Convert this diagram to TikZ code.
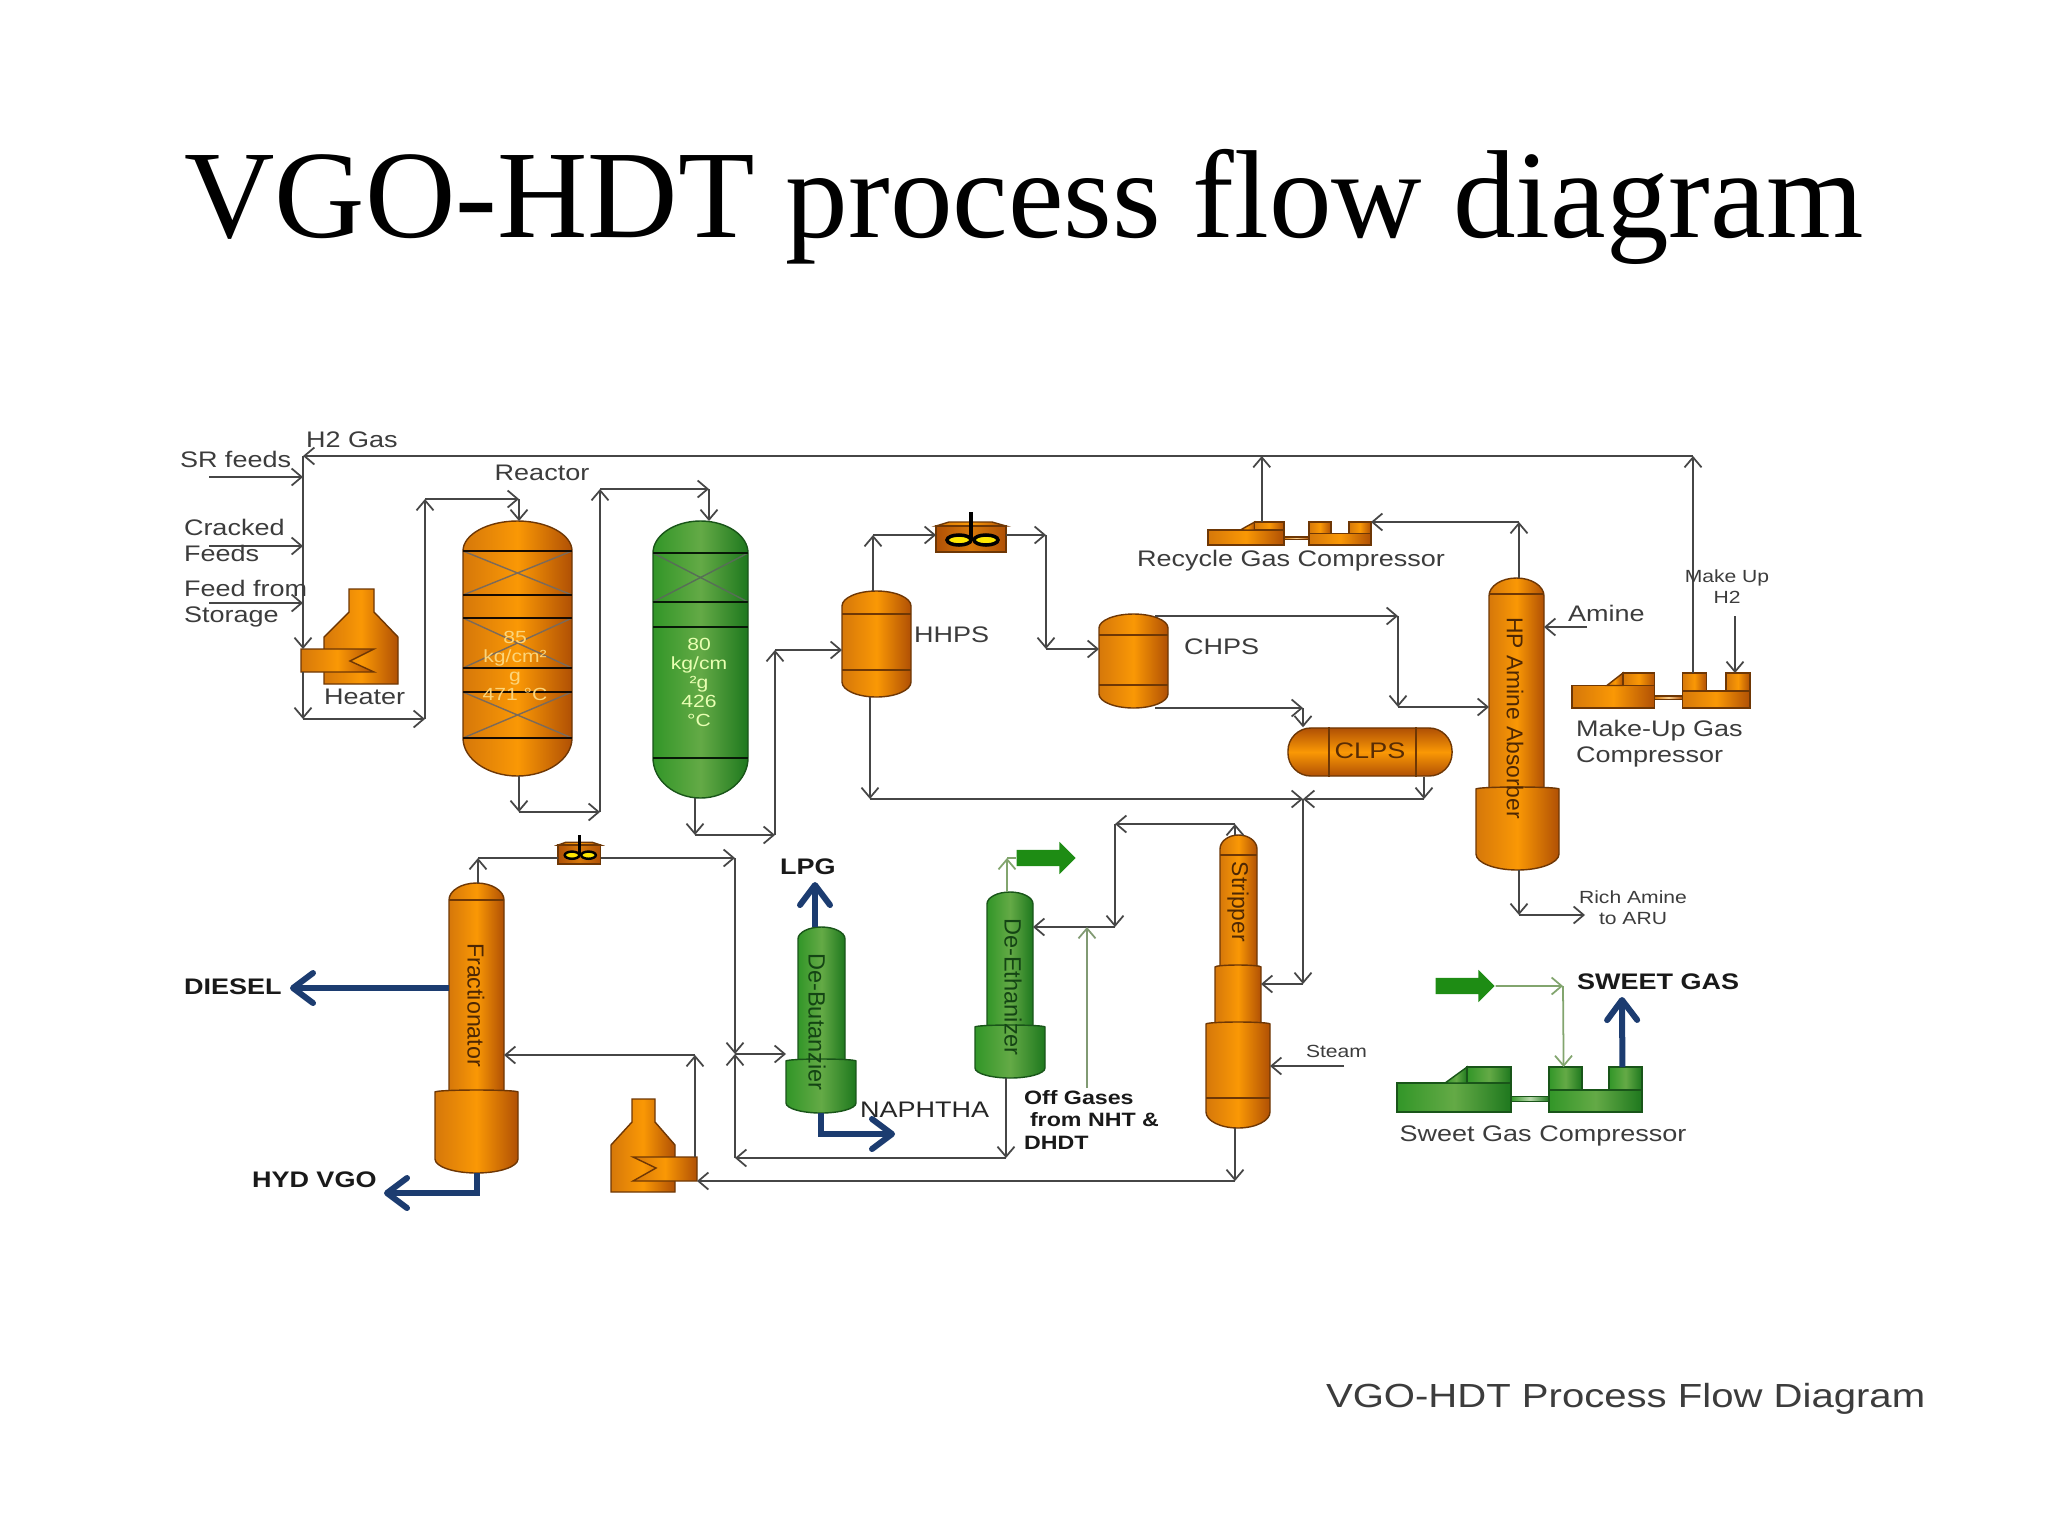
\documentclass[tikz,border=0pt]{standalone}
\usepackage{fontspec}
\setmainfont{Liberation Sans}[FakeStretch=1.2]
\newfontfamily\rotfont{Liberation Sans}
\newfontfamily\titlefont{Liberation Serif}
\usetikzlibrary{positioning, arrows.meta, calc, shapes.arrows}
\definecolor{ordark}{RGB}{110, 55, 5}
\definecolor{oredge}{RGB}{214, 120, 10}
\definecolor{ormid}{RGB}{250, 152, 5}
\definecolor{ordeep}{RGB}{176, 80, 5}
\definecolor{grdark}{RGB}{25, 85, 25}
\definecolor{gredge}{RGB}{50, 150, 40}
\definecolor{grmid}{RGB}{100, 170, 70}
\definecolor{grdeep}{RGB}{30, 120, 30}
\definecolor{pipe}{RGB}{70, 70, 70}
\definecolor{litepipe}{RGB}{130, 165, 110}
\definecolor{navyflow}{RGB}{28, 60, 112}
\definecolor{greenflow}{RGB}{30, 140, 20}
\definecolor{lbltext}{RGB}{60, 60, 60}

% vessel: name, x1, y1, x2, y2, top dome, bottom dome, style
\newcommand{\vessel}[8]{%
  \pgfmathsetmacro{\xm}{(#2+#4)/2}\pgfmathsetmacro{\hw}{.55*(#4-#2)/2}
  \path[#8] (#2,#3+#6) .. controls (#2,#3+.45*#6) and (\xm-\hw,#3) .. (\xm,#3)
    .. controls (\xm+\hw,#3) and (#4,#3+.45*#6) .. (#4,#3+#6)
    -- (#4,#5-#7) .. controls (#4,#5-.45*#7) and (\xm+\hw,#5) .. (\xm,#5)
    .. controls (\xm-\hw,#5) and (#2,#5-.45*#7) .. (#2,#5-#7) -- cycle;
  \node[minimum width={(#4-#2)*.01cm}, minimum height={(#5-#3)*.01cm}, inner sep=0, outer sep=0] (#1) at (\xm,{(#3+#5)/2}) {};
}

\tikzset{
  orvessel/.style={draw=ordark, line width=.4pt, left color=oredge, right color=ordeep, middle color=ormid},
  grvessel/.style={draw=grdark, line width=.4pt, left color=gredge, right color=grdeep, middle color=grmid},
  orband/.style={draw=ordark, line width=.5pt},
  orbandx/.style={draw=black!80!ordark, line width=.8pt},
  grbandx/.style={draw=black!70!grdark, line width=.8pt},
  arrow/.style={draw=pipe, line width=.5pt, -{Straight Barb[length=.1cm,width=.17cm]}},
  litearrow/.style={arrow, draw=litepipe},
  product/.style={draw=navyflow, line width=.06cm, -{Straight Barb[length=.2cm,width=.3cm,round]}},
  greenarrow/.style={single arrow, fill=greenflow, inner sep=0, text height=.15cm, text depth=0pt, minimum height=.59cm, minimum width=.31cm, single arrow head extend=.08cm, single arrow head indent=0cm},
  lbl/.style={font=\fontsize{6.4}{7.4}\selectfont, text=lbltext, inner sep=0, outer sep=0, align=left},
  small/.style={lbl, font=\fontsize{5}{6}\selectfont, align=center},
  prod/.style={lbl, font=\bfseries\fontsize{6.4}{7.4}\selectfont, text=black!90},
  rot/.style={font=\rotfont\fontsize{6.5}{7.5}\selectfont, rotate=-90, inner sep=0},
  pics/compressor/.style={code={
    \path[#1] (0,35.6) rectangle (46.5,100);
    \path[#1] (19.6,35.6) -- (28.6,0) -- (28.6,35.6) -- cycle;
    \path[#1] (28.6,0) rectangle (46.5,35.6);
    \path[#1, middle color=white!55!#1col] (46.5,66) rectangle (62,76);
    \path[#1] (62,51) rectangle (100,100);
    \path[#1] (62,0) rectangle (75.5,51);
    \path[#1] (86.5,0) rectangle (100,51);
    \coordinate (-l) at (33,0);
    \coordinate (-m) at (68,0);
    \coordinate (-n) at (92,0);
    \coordinate (-e) at (100,0);
  }},
  pics/cooler/.style={code={
    \path[orvessel] (0,14) -- (13,10) -- (56,10) -- (70,14) -- cycle;
    \path[draw=ordark, line width=.4pt, left color=ordeep, right color=ordeep, middle color=oredge] (0,14) rectangle (70,40);
    \draw[line width=#1] (35,0) -- (35,28);
    \draw[line width=#1, fill=yellow!90!orange] (23,28) ellipse [x radius=12, y radius=5];
    \draw[line width=#1, fill=yellow!90!orange] (50,28) ellipse [x radius=12, y radius=5];
    \coordinate (-in) at (0,23);
    \coordinate (-out) at (70,23);
  }},
}
\colorlet{orvesselcol}{ormid}
\colorlet{grvesselcol}{grmid}

\begin{document}
\begin{tikzpicture}[x=.01cm, y=-.01cm]
\useasboundingbox (0,0) rectangle (2048,1536);

\node[font=\titlefont\fontsize{35.6}{40}\selectfont, anchor=base, inner sep=0] (title) at (1024,237) {VGO-HDT process flow diagram};
\node[lbl, font=\fontsize{9.5}{11}\selectfont, anchor=west] (caption) at (1326,1399) {VGO-HDT Process Flow Diagram};

% reactors
\vessel{r1}{463}{521}{572}{776}{30}{38}{orvessel}
\foreach \ya/\yb in {551/595, 618/668, 692/738} {
  \draw[draw=gray!70!ordark, line width=.4pt] (r1.west |- 0,\ya) -- (r1.east |- 0,\yb);
  \draw[draw=gray!70!ordark, line width=.4pt] (r1.west |- 0,\yb) -- (r1.east |- 0,\ya);
}
\foreach \y in {551, 595, 618, 668, 692, 738}
  \draw[orbandx] (r1.west |- 0,\y) -- (r1.east |- 0,\y);
\vessel{r2}{653}{521}{748}{798}{32}{40}{grvessel}
\draw[draw=gray!60!grdark, line width=.4pt] (r2.west |- 0,553) -- (r2.east |- 0,602);
\draw[draw=gray!60!grdark, line width=.4pt] (r2.west |- 0,602) -- (r2.east |- 0,553);
\foreach \y in {553, 602, 627, 758}
  \draw[grbandx] (r2.west |- 0,\y) -- (r2.east |- 0,\y);
\node[small, text=yellow!40!orange!50!white] (r1txt) at (515,666) {85\\[-.6pt]kg/cm²\\[-.6pt]g\\[-.6pt]471 °C};
\node[small, text=green!30!yellow!30!white] (r2txt) at (699,682) {80\\[-.6pt]kg/cm\\[-.6pt]²g\\[-.6pt]426\\[-.6pt]°C};

% heaters
\path[orvessel] (324,684) -- (324,637) -- (349,612) -- (349,589) -- (374,589) -- (374,612) -- (398,637) -- (398,684) -- cycle;
\path[orvessel] (301,649) -- (374,649) -- (350,661) -- (374,672) -- (301,672) -- cycle;
\path[orvessel] (611,1192) -- (611,1145) -- (632,1122) -- (632,1099) -- (655,1099) -- (655,1122) -- (675,1145) -- (675,1192) -- cycle;
\path[orvessel] (633,1157) -- (697,1157) -- (697,1181) -- (633,1181) -- (656,1168) -- cycle;

% separators
\vessel{hhps}{842}{591}{911}{697}{15}{15}{orvessel}
\foreach \y in {614, 670} \draw[orband] (hhps.west |- 0,\y) -- (hhps.east |- 0,\y);
\vessel{chps}{1099}{614}{1168}{708}{14}{14}{orvessel}
\foreach \y in {635, 685} \draw[orband] (chps.west |- 0,\y) -- (chps.east |- 0,\y);
\node[draw=ordark, line width=.4pt, top color=ordeep, bottom color=ordeep, middle color=ormid, rounded corners=.23cm, minimum width=1.64cm, minimum height=.48cm, inner sep=0] (clps) at (1370,752) {};
\foreach \x in {1329, 1416} \draw[orband] (\x,0 |- clps.north) -- (\x,0 |- clps.south);

% columns
\vessel{abs}{1489}{578}{1544}{800}{18}{0}{orvessel}
\vessel{absb}{1476}{787}{1559}{870}{2}{16}{orvessel}
\draw[orband] (abs.west |- 0,594) -- (abs.east |- 0,594);
\vessel{frac}{449}{883}{504}{1100}{17}{0}{orvessel}
\vessel{fracb}{435}{1090}{518}{1173}{2}{14}{orvessel}
\draw[orband] (frac.west |- 0,900) -- (frac.east |- 0,900);
\vessel{debut}{798}{927}{845}{1068}{12}{0}{grvessel}
\vessel{debutb}{786}{1059}{856}{1113}{2}{10}{grvessel}
\vessel{deeth}{987}{892}{1033}{1035}{12}{0}{grvessel}
\vessel{deethb}{975}{1025}{1045}{1078}{2}{10}{grvessel}
\vessel{strip}{1220}{835}{1257}{975}{14}{0}{orvessel}
\vessel{stripm}{1215}{965}{1261}{1030}{2}{0}{orvessel}
\vessel{stripb}{1206}{1022}{1270}{1128}{2}{16}{orvessel}
\draw[orband] (strip.west |- 0,855) -- (strip.east |- 0,855);
\draw[orband] (stripb.west |- 0,1098) -- (stripb.east |- 0,1098);

% compressors and coolers
\pic[xscale=1.63, yscale=.23] (rc) at (1208,522) {compressor=orvessel};
\pic[xscale=1.78, yscale=.35] (mu) at (1572,673) {compressor=orvessel};
\pic[xscale=2.45, yscale=.45] (sg) at (1397,1067) {compressor=grvessel};
\pic (cl1) at (936,512) {cooler=1pt};
\pic[xscale=.61, yscale=.72] (cl2) at (558,835) {cooler=.7pt};

% pipe corners
\coordinate (h2end) at (303,456);
\coordinate (mainbot) at (303,719);
\coordinate (htr1in) at (303,649);
\coordinate (htr1out) at (303,672);
\coordinate (srfrom) at (209,477);
\coordinate (crfrom) at (209,546);
\coordinate (stfrom) at (209,603);
\coordinate (rise1a) at (425,719);
\coordinate (rise1b) at (425,499);
\coordinate (r1top) at (519,499);
\coordinate (r1bot) at (519,812);
\coordinate (rise2a) at (600,812);
\coordinate (rise2b) at (600,489);
\coordinate (r2top) at (709,489);
\coordinate (r2bot) at (695,835);
\coordinate (rise3a) at (775,835);
\coordinate (rise3b) at (775,650);
\coordinate (hhpsup) at (873,535);
\coordinate (cl1down) at (1046,535);
\coordinate (cl1low) at (1046,649);
\coordinate (chpsa) at (1155,616);
\coordinate (chpsb) at (1398,616);
\coordinate (abin) at (1398,707);
\coordinate (chpsc) at (1155,708);
\coordinate (clpsin) at (1303,708);
\coordinate (clpsout) at (1424,799);
\coordinate (hhpslow) at (870,799);
\coordinate (xj) at (1303,799);
\coordinate (stripin) at (1303,984);
\coordinate (abtop) at (1519,522);
\coordinate (abbot) at (1519,915);
\coordinate (richend) at (1585,915);
\coordinate (aminefrom) at (1587,627);
\coordinate (mufrom) at (1735,616);
\coordinate (frtop) at (478,858);
\coordinate (cl2end) at (735,858);
\coordinate (dbj) at (735,1054);
\coordinate (lowj) at (735,1158);
\coordinate (detail) at (1006,1158);
\coordinate (h2up) at (695,1157);
\coordinate (h2ret) at (695,1055);
\coordinate (h2in) at (697,1181);
\coordinate (stripbot) at (1235,1181);
\coordinate (striptop) at (1235,824);
\coordinate (detop) at (1115,824);
\coordinate (dej) at (1115,927);
\coordinate (offfrom) at (1087,1088);
\coordinate (offto) at (1087,927);
\coordinate (steamfrom) at (1344,1066);
\coordinate (deup) at (1007,858);
\coordinate (sgcorner) at (1563,986);

\node[greenarrow] (gflow1) at (1042,858) {};
\node[greenarrow] (gflow2) at (1461,986) {};

\coordinate (dieselend) at (290,988);
\coordinate (hydend) at (384,1193);
\coordinate (lpgend) at (815,882);
\coordinate (naphend) at (895,1134);
\coordinate (sweetend) at (1622,997);

% feed section
\draw[arrow] (mu-m |- h2end) -- (h2end);
\draw[arrow] (srfrom) -- (srfrom -| h2end);
\draw[arrow] (crfrom) -- (crfrom -| h2end);
\draw[arrow] (stfrom) -- (stfrom -| h2end);
\draw[arrow] (h2end) -- (htr1in);
\draw[arrow] (htr1out) -- (mainbot);
\draw[arrow] (mainbot) -- (rise1a);
\draw[arrow] (rise1a) -- (rise1b);
\draw[arrow] (rise1b) -- (r1top);
\draw[arrow] (r1top) -- (r1top |- r1.north);
\draw[arrow] (r1bot |- r1.south) -- (r1bot);
\draw[arrow] (r1bot) -- (rise2a);
\draw[arrow] (rise2a) -- (rise2b);
\draw[arrow] (rise2b) -- (r2top);
\draw[arrow] (r2top) -- (r2top |- r2.north);
\draw[arrow] (r2bot |- r2.south) -- (r2bot);
\draw[arrow] (r2bot) -- (rise3a);
\draw[arrow] (rise3a) -- (rise3b);
\draw[arrow] (rise3b) -- (rise3b -| hhps.west);

% separators
\draw[arrow] (hhpsup |- hhps.north) -- (hhpsup);
\draw[arrow] (hhpsup) -- (cl1-in);
\draw[arrow] (cl1-out) -- (cl1down);
\draw[arrow] (cl1down) -- (cl1low);
\draw[arrow] (cl1low) -- (cl1low -| chps.west);
\draw[arrow] (chpsa) -- (chpsb);
\draw[arrow] (chpsb) -- (abin);
\draw[arrow] (abin) -- (abin -| abs.west);
\draw[arrow] (chpsc) -- (clpsin);
\draw[arrow] (clpsin) -- (clpsin |- clps.north);
\draw[arrow] (clpsout |- clps.south) -- (clpsout);
\draw[arrow] (clpsout) -- (xj);
\draw[arrow] (hhpslow |- hhps.south) -- (hhpslow);
\draw[arrow] (hhpslow) -- (xj);
\draw[arrow] (xj) -- (stripin);
\draw[arrow] (stripin) -- (stripin -| stripm.east);

% compressors
\draw[arrow] (rc-l) -- (rc-l |- h2end);
\draw[arrow] (abtop |- abs.north) -- (abtop);
\draw[arrow] (abtop) -- (rc-e);
\draw[arrow] (mu-m) -- (mu-m |- h2end);
\draw[arrow] (mufrom) -- (mufrom |- mu-n);
\draw[arrow] (aminefrom) -- (aminefrom -| abs.east);
\draw[arrow] (abbot |- absb.south) -- (abbot);
\draw[arrow] (abbot) -- (richend);

% fractionation
\draw[arrow] (frtop |- frac.north) -- (frtop);
\draw[pipe, line width=.5pt] (frtop) -- (frtop -| cl2-in);
\draw[arrow] (frtop -| cl2-out) -- (cl2end);
\draw[arrow] (cl2end) -- (dbj);
\draw[arrow] (lowj) -- (dbj);
\draw[arrow] (dbj) -- (dbj -| debutb.west);
\draw[arrow] (detail |- deethb.south) -- (detail);
\draw[arrow] (detail) -- (lowj);
\draw[arrow] (h2up) -- (h2ret);
\draw[arrow] (h2ret) -- (h2ret -| frac.east);
\draw[arrow] (stripbot |- stripb.south) -- (stripbot);
\draw[arrow] (stripbot) -- (h2in);
\draw[arrow] (striptop |- strip.north) -- (striptop);
\draw[arrow] (striptop) -- (detop);
\draw[arrow] (detop) -- (dej);
\draw[arrow] (dej) -- (dej -| deeth.east);
\draw[arrow] (steamfrom) -- (steamfrom -| stripb.east);
\draw[litearrow, draw=litepipe!70!gray] (offfrom) -- (offto);
\draw[litearrow] (deup |- deeth.north) -- (deup);
\draw[litepipe, line width=.5pt] (deup) -- (gflow1.west);
\draw[litearrow] (gflow2.east) -- (sgcorner);
\draw[litearrow] (sgcorner) -- (sg-m);

% products
\draw[product] (frac.west |- dieselend) -- (dieselend);
\draw[product] (fracb.south) |- (hydend);
\draw[product] (lpgend |- debut.north) -- (lpgend);
\draw[product] (debutb.south) |- (naphend);
\draw[product] (sg-n) -- (sweetend);

% labels
\node[lbl, anchor=west] (h2gas) at (306,440) {H2 Gas};
\node[lbl, anchor=west] (srfeed) at (180,459) {SR feeds};
\node[lbl, anchor=west] (crfeed) at (184,540) {Cracked\\Feeds};
\node[lbl, anchor=west] (stfeed) at (184,604) {Feed from\\Storage};
\node[lbl, anchor=west] (heater) at (324,697) {Heater};
\node[lbl] (reactor) at (542,473) {Reactor};
\node[lbl, anchor=west] (hhpstxt) at (914,635) {HHPS};
\node[lbl, anchor=west] (chpstxt) at (1184,647) {CHPS};
\node[lbl, text=ordark!80!black] (clpstxt) at (1370,751) {CLPS};
\node[lbl] (rctxt) at (1291,561) {Recycle Gas Compressor};
\node[lbl, anchor=west] (aminetxt) at (1568,613) {Amine};
\node[small] (mutxt) at (1727,587) {Make Up\\H2};
\node[lbl, anchor=west] (mgtxt) at (1576,744) {Make-Up Gas\\Compressor};
\node[small] (richtxt) at (1633,908) {Rich Amine\\to ARU};
\node[small, anchor=west] (steamtxt) at (1306,1051) {Steam};
\node[lbl] (sgtxt) at (1543,1136) {Sweet Gas Compressor};
\node[prod, anchor=west] (dieseltxt) at (184,987) {DIESEL};
\node[prod, anchor=west] (hydtxt) at (252,1180) {HYD VGO};
\node[prod, anchor=west] (lpgtxt) at (780,867) {LPG};
\node[lbl, text=black!85, anchor=west] (naphtxt) at (860,1110) {NAPHTHA};
\node[prod, anchor=west] (sweettxt) at (1577,982) {SWEET GAS};
\node[prod, font=\bfseries\fontsize{5.5}{6.4}\selectfont, anchor=north west] (offtxt) at (1024,1090) {Off Gases\\\hspace{.06cm}from NHT \&\\DHDT};

% column labels
\node[rot, text=ordark!70!black] (abstxt) at (1515,718) {HP Amine Absorber};
\node[rot, text=ordark!70!black, font=\rotfont\fontsize{6.6}{7.5}\selectfont] (fractxt) at (476,1005) {Fractionator};
\node[rot, text=grdark!80!black, font=\rotfont\fontsize{6.7}{7.5}\selectfont] (debuttxt) at (817,1022) {De-Butanzier};
\node[rot, text=grdark!80!black, font=\rotfont\fontsize{6.7}{7.5}\selectfont] (deethtxt) at (1013,987) {De-Ethanizer};
\node[rot, text=ordark!70!black] (striptxt) at (1238,902) {Stripper};
\end{tikzpicture}
\end{document}
